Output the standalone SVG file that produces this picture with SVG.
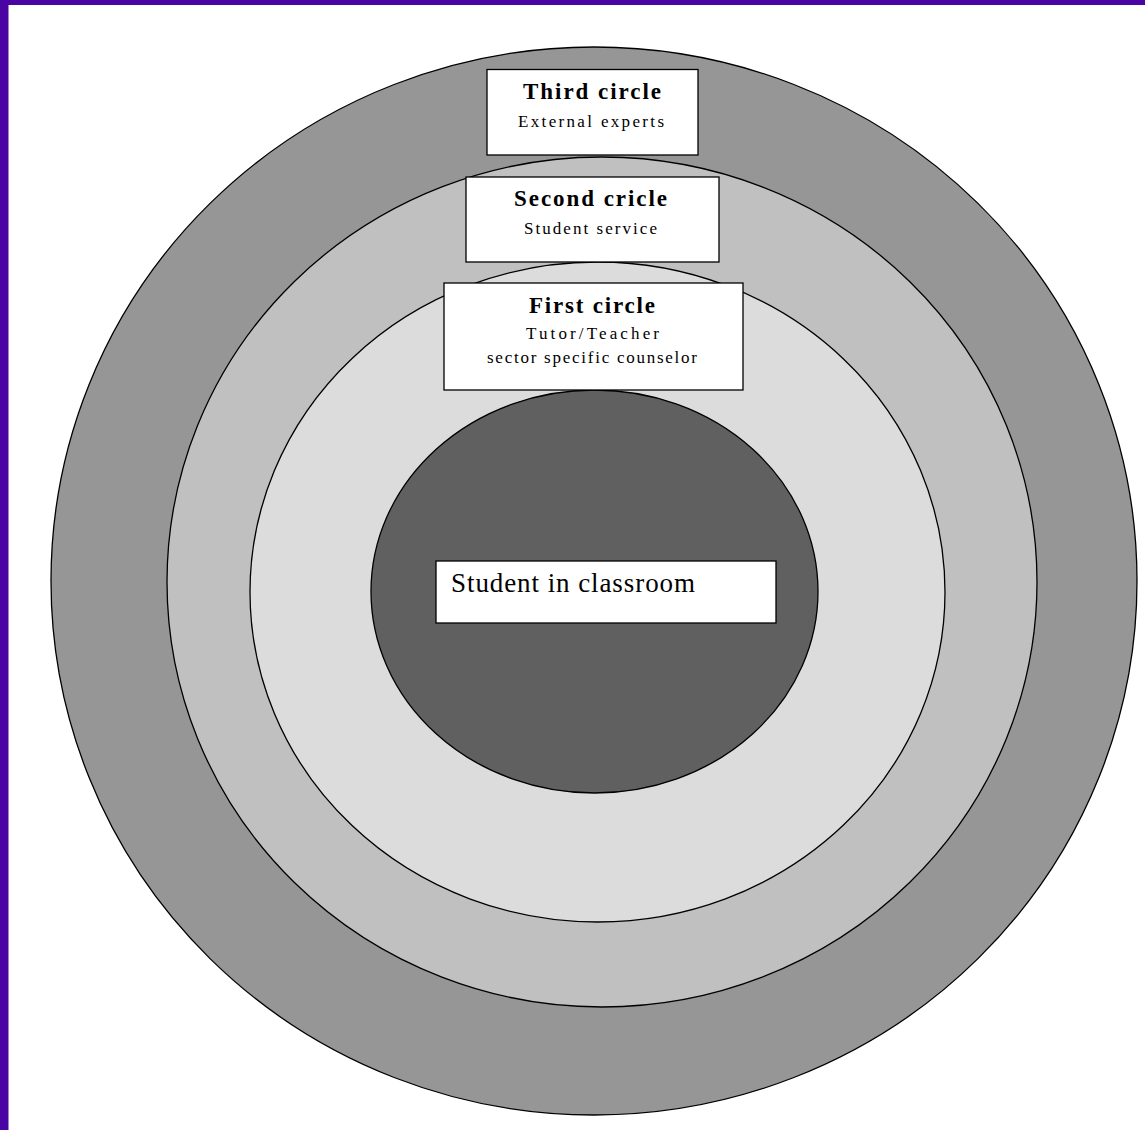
<svg xmlns="http://www.w3.org/2000/svg" width="1145" height="1130" viewBox="0 0 1145 1130">
<style>
.ring{stroke:#000;stroke-width:1.3}
.box{fill:#fff;stroke:#000;stroke-width:1.3}
.t{font-family:"Liberation Serif","Times New Roman",serif;fill:#000;text-anchor:middle}
.b{font-weight:bold;font-size:23px}
.s{font-size:17px}
</style>
<rect x="0" y="0" width="1145" height="1130" fill="#fff"/>
<rect x="0" y="0" width="1145" height="5" fill="#4a04a4"/>
<rect x="0" y="0" width="8.5" height="1130" fill="#4a04a4"/>
<g id="third-ring"><ellipse class="ring" cx="594" cy="581" rx="543" ry="534" fill="#969696"/></g>
<g id="second-ring"><ellipse class="ring" cx="602" cy="582" rx="435" ry="425" fill="#c0c0c0"/></g>
<g id="first-ring"><ellipse class="ring" cx="597.5" cy="592" rx="347.5" ry="330" fill="#dcdcdc"/></g>
<g id="student-core"><ellipse class="ring" cx="594.5" cy="591.5" rx="223.5" ry="201.5" fill="#606060"/></g>
<g id="third-circle">
<rect class="box" x="487" y="69.5" width="211" height="85.5"/>
<text class="t b" x="592" y="99" textLength="138" lengthAdjust="spacing">Third circle</text>
<text class="t s" x="591" y="127" textLength="146" lengthAdjust="spacing">External experts</text>
</g>
<g id="second-circle">
<rect class="box" x="466" y="177" width="253" height="85"/>
<text class="t b" x="590.5" y="206" textLength="153" lengthAdjust="spacing">Second cricle</text>
<text class="t s" x="590.5" y="234" textLength="133" lengthAdjust="spacing">Student service</text>
</g>
<g id="first-circle">
<rect class="box" x="444" y="283" width="299" height="107"/>
<text class="t b" x="592" y="313" textLength="126" lengthAdjust="spacing">First circle</text>
<text class="t s" x="592.5" y="339" textLength="133" lengthAdjust="spacing">Tutor/Teacher</text>
<text class="t s" x="592" y="363" textLength="210" lengthAdjust="spacing">sector specific counselor</text>
</g>
<g id="student">
<rect class="box" x="436" y="561" width="340" height="62"/>
<text x="451" y="592" font-family="Liberation Serif, Times New Roman, serif" font-size="27" textLength="244" lengthAdjust="spacing">Student in classroom</text>
</g>
<g id="connectors"/>
</svg>
